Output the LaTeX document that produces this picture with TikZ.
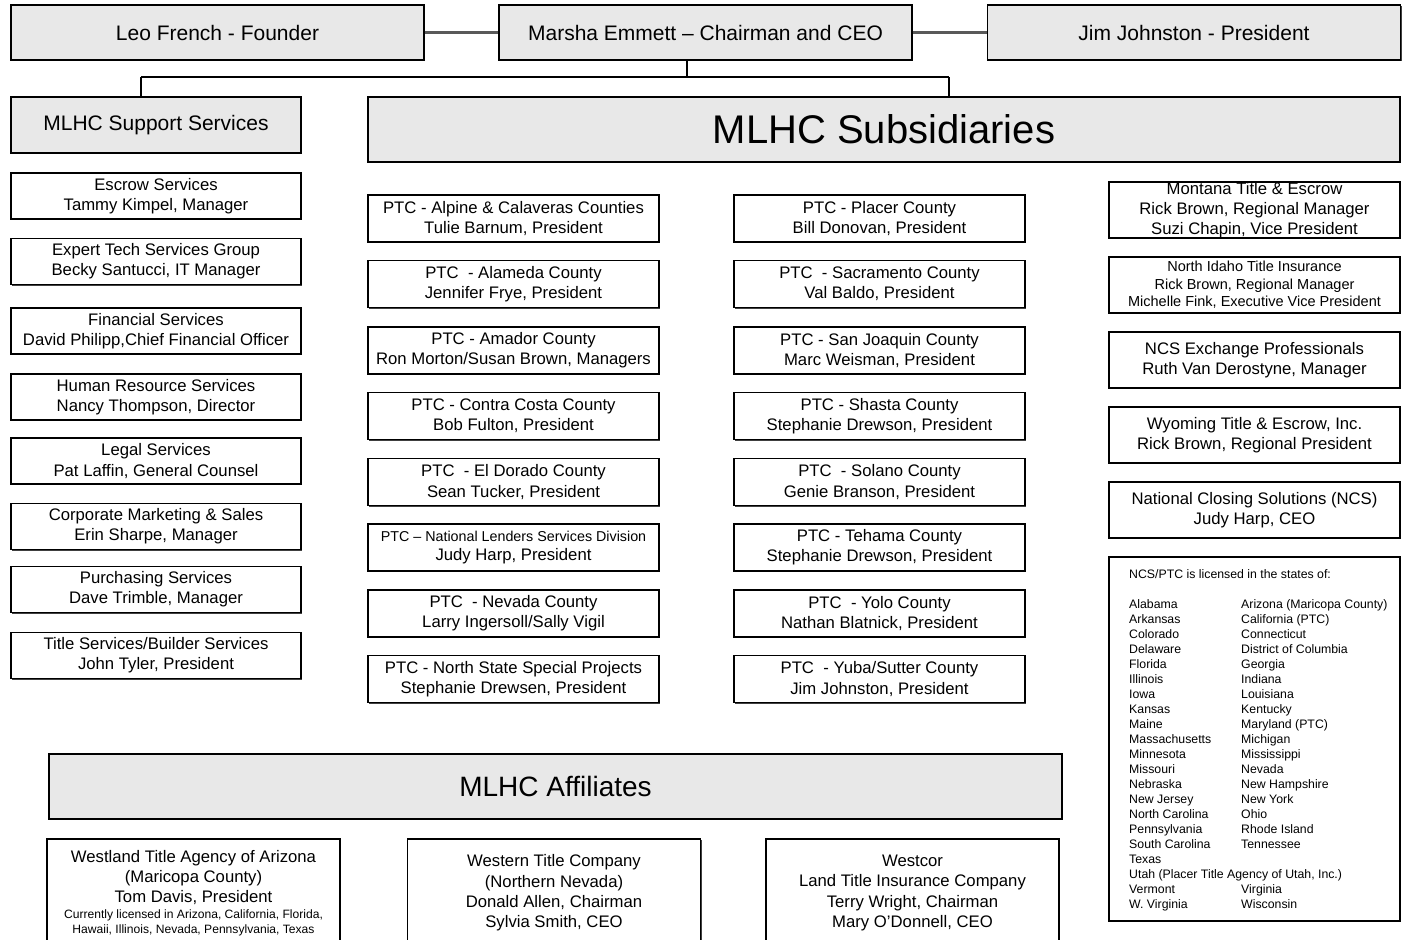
\documentclass[tikz,border=0pt]{standalone}
\usepackage{fontspec}
\setmainfont{Liberation Sans}
\usetikzlibrary{positioning,shadows}

\newcommand{\bodyfont}{\fontsize{16.7}{20.3}\selectfont}
\newcommand{\notefont}{\fontsize{12.1}{15}\selectfont}
\newcommand{\listfont}{\fontsize{12.3}{15}\selectfont}

\begin{document}
\begin{tikzpicture}
    [
        x=1pt, y=-1pt,
        every node/.style={align=center, inner sep=0pt, font=\bodyfont},
        box/.style={draw, line width=1.3pt, fill=white,
            drop shadow={shadow xshift=1.4pt, shadow yshift=-1.4pt, fill=black!75, opacity=1}},
        head/.style={box, fill=black!9},
        top/.style={head, minimum width=413, minimum height=55, font=\fontsize{21}{25}\selectfont},
        unit/.style={box, minimum width=290, minimum height=46},
        sub/.style={box, minimum width=291, minimum height=47},
        firm/.style={box, minimum width=291, minimum height=56},
        affil/.style={box, minimum width=293, minimum height=108},
        link/.style={line width=3.2pt, draw=black!65},
        bus/.style={line width=2.6pt},
        drop/.style={line width=1.4pt},
    ]
  \path [use as bounding box, clip] (0,0) rectangle (1406,940);

  % Nodes
  \node [top] (leo) at (217.5,32.5) {Leo French - Founder};
  \node [top] (marsha) at (705.5,32.5) {Marsha Emmett -- Chairman and CEO};
  \node [top] (jim) at (1194,32.5) {Jim Johnston - President};

  \node [head, minimum width=290, minimum height=56, font=\fontsize{21}{25}\selectfont] (support) at (156,125) {MLHC Support Services};
  \node [head, minimum width=1032, minimum height=65, font=\fontsize{40}{46}\selectfont] (subs) at (884,129.5) {MLHC Subsidiaries};

  % support services
  \node [unit] (escrow) at (156,196) {Escrow Services\\Tammy Kimpel, Manager};
  \node [unit] (tech) at (156,261.5) {Expert Tech Services Group\\Becky Santucci, IT Manager};
  \node [unit] (finance) at (156,331) {Financial Services\\David Philipp,Chief Financial Officer};
  \node [unit] (hr) at (156,397) {Human Resource Services\\Nancy Thompson, Director};
  \node [unit] (legal) at (156,461) {Legal Services\\Pat Laffin, General Counsel};
  \node [unit] (marketing) at (156,526.5) {Corporate Marketing \& Sales\\Erin Sharpe, Manager};
  \node [unit] (purchasing) at (156,589.5) {Purchasing Services\\Dave Trimble, Manager};
  \node [unit] (builder) at (156,655.5) {Title Services/Builder Services\\John Tyler, President};

  % subsidiaries, first column
  \node [sub] (alpine) at (513.5,218.5) {PTC - Alpine \& Calaveras Counties\\Tulie Barnum, President};
  \node [sub] (alameda) at (513.5,284) {PTC \ - Alameda County\\Jennifer Frye, President};
  \node [sub] (amador) at (513.5,350.5) {PTC - Amador County\\Ron Morton/Susan Brown, Managers};
  \node [sub] (contra) at (513.5,416) {PTC - Contra Costa County\\Bob Fulton, President};
  \node [sub] (eldorado) at (513.5,482) {PTC \ - El Dorado County\\Sean Tucker, President};
  \node [sub] (lenders) at (513.5,547.5) {{\fontsize{14.3}{17}\selectfont PTC -- National Lenders Services Division}\\[-2pt]Judy Harp, President};
  \node [sub] (nevada) at (513.5,613.5) {PTC \ - Nevada County\\Larry Ingersoll/Sally Vigil};
  \node [sub] (northstate) at (513.5,679) {PTC - North State Special Projects\\Stephanie Drewsen, President};

  % subsidiaries, second column
  \node [sub] (placer) at (879.5,218.5) {PTC - Placer County\\Bill Donovan, President};
  \node [sub] (sacramento) at (879.5,284) {PTC \ - Sacramento County\\Val Baldo, President};
  \node [sub] (sanjoaquin) at (879.5,350.5) {PTC - San Joaquin County\\Marc Weisman, President};
  \node [sub] (shasta) at (879.5,416) {PTC - Shasta County\\Stephanie Drewson, President};
  \node [sub] (solano) at (879.5,482) {PTC \ - Solano County\\Genie Branson, President};
  \node [sub] (tehama) at (879.5,547.5) {PTC - Tehama County\\Stephanie Drewson, President};
  \node [sub] (yolo) at (879.5,613.5) {PTC \ - Yolo County\\Nathan Blatnick, President};
  \node [sub] (yuba) at (879.5,679) {PTC \ - Yuba/Sutter County\\Jim Johnston, President};

  % subsidiaries, third column
  \node [firm] (montana) at (1254.5,210) {Montana Title \& Escrow\\Rick Brown, Regional Manager\\Suzi Chapin, Vice President};
  \node [firm, font=\fontsize{14.5}{17.5}\selectfont] (idaho) at (1254.5,285) {North Idaho Title Insurance\\Rick Brown, Regional Manager\\Michelle Fink, Executive Vice President};
  \node [firm] (exchange) at (1254.5,360) {NCS Exchange Professionals\\Ruth Van Derostyne, Manager};
  \node [firm] (wyoming) at (1254.5,435) {Wyoming Title \& Escrow, Inc.\\Rick Brown, Regional President};
  \node [firm] (ncs) at (1254.5,510) {National Closing Solutions (NCS)\\Judy Harp, CEO};
  \node [box, minimum width=291, minimum height=364] (states) at (1254.5,739) {};
  \node [anchor=north west, align=left, font=\listfont] (statelist) at (1129,568) {%
    \begin{tabular}{@{}p{112pt}@{}l@{}}
      \multicolumn{2}{@{}l@{}}{NCS/PTC is licensed in the states of:}\\
      \\
      Alabama & Arizona (Maricopa County)\\
      Arkansas & California (PTC)\\
      Colorado & Connecticut\\
      Delaware & District of Columbia\\
      Florida & Georgia\\
      Illinois & Indiana\\
      Iowa & Louisiana\\
      Kansas & Kentucky\\
      Maine & Maryland (PTC)\\
      Massachusetts & Michigan\\
      Minnesota & Mississippi\\
      Missouri & Nevada\\
      Nebraska & New Hampshire\\
      New Jersey & New York\\
      North Carolina & Ohio\\
      Pennsylvania & Rhode Island\\
      South Carolina & Tennessee\\
      Texas & \\
      \multicolumn{2}{@{}l@{}}{Utah (Placer Title Agency of Utah, Inc.)}\\
      Vermont & Virginia\\
      W. Virginia & Wisconsin
    \end{tabular}};

  % affiliates
  \node [head, minimum width=1013, minimum height=65, font=\fontsize{28}{33}\selectfont] (affiliates) at (555.5,786.5) {MLHC Affiliates};
  \node [affil] (westland) at (193.5,893) {Westland Title Agency of Arizona\\(Maricopa County)\\Tom Davis, President\\[-5pt]
    {\notefont Currently licensed in Arizona, California, Florida,}\\[-5pt]
    {\notefont Hawaii, Illinois, Nevada, Pennsylvania, Texas}};
  \node [affil] (western) at (554,893) {Western Title Company\\(Northern Nevada)\\Donald Allen, Chairman\\Sylvia Smith, CEO};
  \node [affil] (westcor) at (912.5,893) {Westcor\\Land Title Insurance Company\\Terry Wright, Chairman\\Mary O'Donnell, CEO};

  % Connections
  \coordinate (hub) at (687,77);
  \coordinate (busl) at (141,77);
  \coordinate (busr) at (949,77);
  \draw [link] (leo) -- (marsha);
  \draw [link] (marsha) -- (jim);
  \draw [drop] (marsha.south -| hub) -- (hub);
  \draw [bus] (busl) -- (busr);
  \draw [drop] (busl) -- (busl |- support.north);
  \draw [drop] (busr) -- (busr |- subs.north);
\end{tikzpicture}
\end{document}
